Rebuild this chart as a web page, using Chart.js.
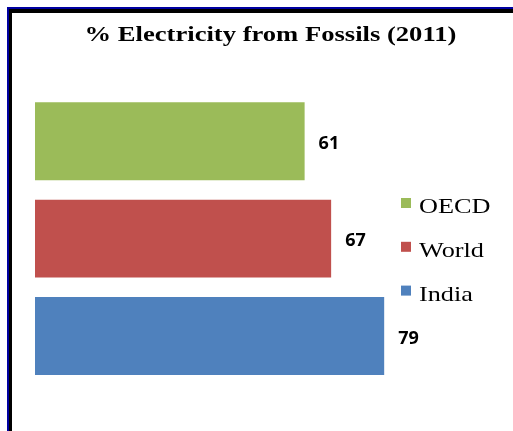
<!DOCTYPE html>
<html>
<head>
<meta charset="utf-8">
<title>% Electricity from Fossils (2011)</title>
<script src="https://cdn.jsdelivr.net/npm/chart.js@4/dist/chart.umd.min.js"></script>
<style>
    body {
        margin: 0;
        background: #ffffff;
    }

    .page {
        position: relative;
        width: 513px;
        height: 431px;
        overflow: hidden;
    }

    .frame {
        position: absolute;
        left: 7px;
        top: 7px;
        width: 700px;
        height: 700px;
        border-top: 2px solid #0000a0;
        border-left: 2px solid #0000a0;
    }

    .frame-inner {
        width: 100%;
        height: 100%;
        border-top: 4px solid #000000;
        border-left: 3px solid #000000;
    }

    canvas {
        position: absolute;
        left: 0;
        top: 0;
    }
</style>
</head>
<body>
<div class="page">
    <div class="frame"><div class="frame-inner"></div></div>
    <canvas id="chartCanvas" width="513" height="431"></canvas>
</div>

<script>
// Dane wykresu
const chartTitle = '% Electricity from Fossils (2011)';
const categories = ['OECD', 'World', 'India'];
const fossilShare = [61, 67, 79];
const barColors = ['#9bbb59', '#c0504d', '#4f81bd'];

// Tytuł, legenda i etykiety wartości rysowane ręcznie
const decorPlugin = {
    id: 'decor',
    afterDatasetsDraw(chart) {
        const ctx = chart.ctx;
        const meta = chart.getDatasetMeta(0);
        const dataset = chart.data.datasets[0];

        // Etykiety wartości przy słupkach
        ctx.save();
        ctx.fillStyle = '#000000';
        ctx.font = 'bold 18px "Open Sans"';
        ctx.textAlign = 'left';
        ctx.textBaseline = 'alphabetic';
        meta.data.forEach((bar, i) => {
            ctx.fillText(String(dataset.data[i]), bar.x + 14, bar.y + 7.5);
        });
        ctx.restore();

        // Tytuł (rozciągnięty poziomo jak w oryginale)
        ctx.save();
        ctx.translate(270.5, 40.5);
        ctx.scale(1.33, 1);
        ctx.fillStyle = '#000000';
        ctx.font = 'bold 20px "Liberation Serif"';
        ctx.textAlign = 'center';
        ctx.textBaseline = 'alphabetic';
        ctx.fillText(chartTitle, 0, 0);
        ctx.restore();

        // Legenda
        const legendTop = 213;
        const legendStep = 43.8;
        chart.data.labels.forEach((label, i) => {
            const baseline = legendTop + i * legendStep;
            ctx.save();
            ctx.fillStyle = dataset.backgroundColor[i];
            ctx.fillRect(401, baseline - 15, 10, 10);
            ctx.translate(419, baseline);
            ctx.scale(1.25, 1);
            ctx.fillStyle = '#000000';
            ctx.font = '21px "Liberation Serif"';
            ctx.textAlign = 'left';
            ctx.textBaseline = 'alphabetic';
            ctx.fillText(label, 0, 0);
            ctx.restore();
        });
    },
};

const chart = new Chart(document.getElementById('chartCanvas'), {
    type: 'bar',
    data: {
        labels: categories,
        datasets: [
            {
                label: '% Electricity from Fossils',
                data: fossilShare,
                backgroundColor: barColors,
                borderWidth: 0,
                barPercentage: 0.8,
                categoryPercentage: 1,
            },
        ],
    },
    options: {
        indexAxis: 'y',
        responsive: false,
        animation: false,
        devicePixelRatio: 1,
        layout: {
            padding: { top: 92.5, left: 35, right: 36, bottom: 46.3 },
        },
        plugins: {
            legend: { display: false },
            title: { display: false },
            tooltip: { enabled: false },
        },
        scales: {
            x: {
                display: false,
                min: 0,
                max: 100,
            },
            y: {
                display: false,
            },
        },
    },
    plugins: [decorPlugin],
});
</script>
</body>
</html>
